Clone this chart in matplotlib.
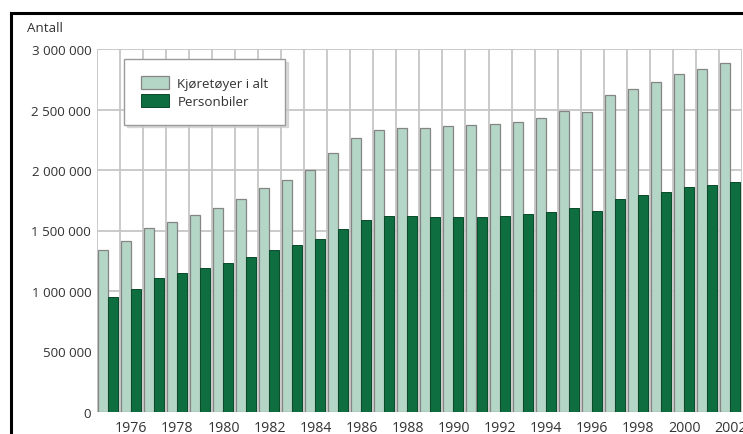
import matplotlib
matplotlib.use("Agg")
import matplotlib.pyplot as plt
from matplotlib.lines import Line2D
import numpy as np

plt.rcParams['font.family'] = ['Open Sans', 'DejaVu Sans']

years = list(range(1975, 2003))
kjoretoy_i_alt = [1339000, 1416000, 1518000, 1573000, 1631000, 1686000, 1758000,
                  1851000, 1920000, 1999000, 2140000, 2267000, 2328000, 2347000,
                  2350000, 2361000, 2369000, 2383000, 2399000, 2432000, 2485000,
                  2479000, 2617000, 2672000, 2730000, 2791000, 2837000, 2884000]
personbiler = [953000, 1019000, 1107000, 1146000, 1190000, 1234000, 1284000,
               1339000, 1383000, 1430000, 1512000, 1589000, 1622000, 1622000,
               1611000, 1611000, 1611000, 1622000, 1636000, 1655000, 1683000,
               1664000, 1763000, 1791000, 1818000, 1857000, 1876000, 1903000]
series_labels = ["Kjøretøyer i alt", "Personbiler"]
y_ticks = [0, 500000, 1000000, 1500000, 2000000, 2500000, 3000000]
x_ticks = list(range(1976, 2003, 2))
y_title = "Antall"

light = '#b4d6c6'
light_edge = '#858585'
dark = '#0e6e3f'
dark_edge = '#0a4a2a'
grid_c = '#c6c6c6'
text_c = '#333333'

W, H = 743, 435
fig = plt.figure(figsize=(W / 100, H / 100), dpi=100)
ax = fig.add_axes([96.7 / W, 22 / H, 645.4 / W, 363 / H])

x = np.array(years, dtype=float)
bw = 0.434
ax.bar(x - 0.24, kjoretoy_i_alt, width=bw, color=light, edgecolor=light_edge,
       linewidth=0.9, zorder=3, label=series_labels[0])
ax.bar(x + 0.195, personbiler, width=bw, color=dark, edgecolor=dark_edge,
       linewidth=0.7, zorder=4, label=series_labels[1])

ax.set_xlim(years[0] - 0.5, years[-1] + 0.5)
ax.set_ylim(0, 3000000)

# grid: horizontal at value ticks, vertical between year groups
for v in y_ticks:
    ax.axhline(v, color=grid_c, lw=1.3, zorder=1)
for b in np.arange(years[0] - 0.5, years[-1] + 0.6, 1.0):
    ax.axvline(b, color=grid_c, lw=1.3, zorder=1)

for s in ax.spines.values():
    s.set_visible(False)

ax.set_yticks(y_ticks)
ax.set_yticklabels([f"{v:,}".replace(",", " ") for v in y_ticks])
ax.set_xticks(x_ticks)
ax.set_xticklabels([str(t) for t in x_ticks])
ax.tick_params(axis='y', length=0, pad=4, labelsize=9.6, labelcolor=text_c)
ax.tick_params(axis='x', length=0, pad=5.5, labelsize=10.2, labelcolor=text_c)

fig.text(27 / W, 1 - 29 / H, y_title, fontsize=9.6, color=text_c,
         ha='left', va='center')

leg = ax.legend(loc='upper left', bbox_to_anchor=(0.0423, 0.9725),
                frameon=True, fancybox=False, fontsize=9.6,
                handlelength=2.15, handleheight=1.15, handletextpad=0.6,
                labelspacing=0.3, borderpad=1.25, borderaxespad=0,
                edgecolor='#9a9a9a', shadow={'color': '0.8', 'alpha': 0.7})
leg.get_frame().set_linewidth(1.0)
leg.set_zorder(10)
for t in leg.get_texts():
    t.set_color(text_c)

# black frame lines along the top and left edges
fig.add_artist(Line2D([10.5 / W, 1.0], [1 - 13.5 / H, 1 - 13.5 / H],
                      transform=fig.transFigure, color='black', lw=2.2))
fig.add_artist(Line2D([10.5 / W, 10.5 / W], [0, 1 - 13.5 / H],
                      transform=fig.transFigure, color='black', lw=2.2))

fig.savefig('out.png', dpi=100)
